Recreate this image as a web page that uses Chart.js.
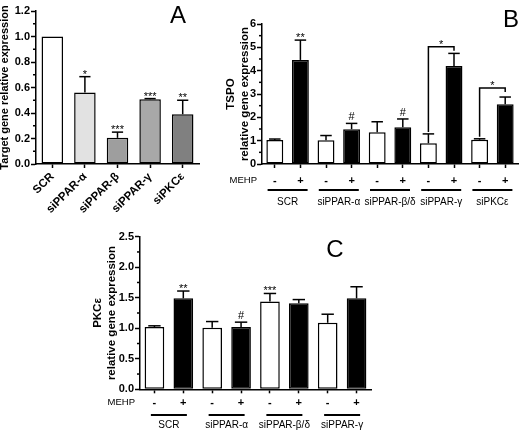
<!DOCTYPE html>
<html>
<head>
<meta charset="utf-8">
<script src="https://cdn.jsdelivr.net/npm/chart.js@4.4.1/dist/chart.umd.min.js"></script>
<style>
body { margin: 0; background: #fff; width: 521px; height: 434px; position: relative; overflow: hidden; }
canvas { position: absolute; }
</style>
</head>
<body>
<canvas id="chartB" width="297" height="215" style="left:224px;top:0px"></canvas>
<canvas id="chartC" width="290" height="214" style="left:91px;top:220px"></canvas>
<canvas id="chartA" width="215" height="220" style="left:-2px;top:0px"></canvas>
<script>
// panel A
const labelsA = ['SCR', 'siPPAR-α', 'siPPAR-β', 'siPPAR-γ', 'siPKCε']
const valuesA = [1.0, 0.56, 0.205, 0.507, 0.39]
const errorsA = [0, 0.125, 0.045, 0.006, 0.11]
const starsA = ['', '*', '***', '***', '**']

// panel B
const mehpB = ['-', '+', '-', '+', '-', '+', '-', '+', '-', '+']
const groupsB = ['SCR', 'siPPAR-α', 'siPPAR-β/δ', 'siPPAR-γ', 'siPKCε']
const valuesB = [1.03, 4.46, 1.02, 1.49, 1.36, 1.57, 0.89, 4.2, 1.04, 2.56]
const errorsB = [0.04, 0.85, 0.2, 0.25, 0.45, 0.36, 0.4, 0.54, 0.04, 0.31]
const starsB = ['', '**', '', '#', '', '#', '', '', '', '']
const bracketPairsB = [[6, 7], [8, 9]]
const bracketLevelsB = [5.03, 3.26]
const bracketMarksB = ['*', '*']

// panel C
const mehpC = ['-', '+', '-', '+', '-', '+', '-', '+']
const groupsC = ['SCR', 'siPPAR-α', 'siPPAR-β/δ', 'siPPAR-γ']
const valuesC = [1.02, 1.49, 1.01, 1.02, 1.44, 1.41, 1.09, 1.49]
const errorsC = [0.02, 0.12, 0.1, 0.08, 0.13, 0.06, 0.14, 0.19]
const starsC = ['', '**', '', '#', '***', '', '', '']

const FONT = 'Arial, "Liberation Sans", sans-serif'
Chart.defaults.font.family = FONT
Chart.defaults.color = '#000'

const onStep = (v, step) => Math.abs(v / step - Math.round(v / step)) < 1e-6

// extra drawing: minor ticks, error bars, stars, brackets, MEHP row, panel letter
const makeAnnot = (p) => ({
    id: 'annot_' + p.letter,
    afterDatasetsDraw(chart) {
        const ctx = chart.ctx
        const xs = chart.scales.x, ys = chart.scales.y
        const bars = chart.getDatasetMeta(0).data
        const errTop = (i) => ys.getPixelForValue(p.values[i] + p.errors[i])
        const line = (x1, y1, x2, y2) => { ctx.beginPath(); ctx.moveTo(x1, y1); ctx.lineTo(x2, y2); ctx.stroke() }
        ctx.save()
        ctx.strokeStyle = '#000'
        ctx.fillStyle = '#000'
        ctx.lineWidth = 1.5

        ys.ticks.forEach(t => {
            if (!onStep(t.value, p.major)) {
                const py = ys.getPixelForValue(t.value)
                line(ys.right - 3, py, ys.right, py)
            }
        })

        ctx.font = '11px ' + FONT
        ctx.textAlign = 'center'
        ctx.textBaseline = 'alphabetic'
        bars.forEach((bar, i) => {
            const top = errTop(i)
            if (p.errors[i] > 0) {
                line(bar.x, bar.y, bar.x, top)
                const c = bar.width * p.cap / 2
                line(bar.x - c, top, bar.x + c, top)
            }
            const s = p.stars[i]
            if (s) ctx.fillText(s, bar.x, s === '#' ? top - 3 : top + 1)
        })

        if (p.brackets) {
            p.brackets.pairs.forEach((pr, k) => {
                const ly = ys.getPixelForValue(p.brackets.levels[k])
                const a = bars[pr[0]].x, b = bars[pr[1]].x
                ctx.beginPath()
                ctx.moveTo(a, errTop(pr[0]) - 2)
                ctx.lineTo(a, ly)
                ctx.lineTo(b, ly)
                ctx.lineTo(b, ly + 4)
                ctx.stroke()
                ctx.fillText(p.brackets.marks[k], (a + b) / 2, ly + 1)
            })
        }

        if (p.groups) {
            ctx.font = '9.5px ' + FONT
            ctx.textAlign = 'right'
            ctx.textBaseline = 'middle'
            ctx.fillText('MEHP', xs.left - 5, p.mehpY)
            ctx.textAlign = 'center'
            ctx.font = '10px ' + FONT
            ctx.lineWidth = 2
            p.groups.forEach((g, k) => {
                const mid = (bars[2 * k].x + bars[2 * k + 1].x) / 2
                line(mid - p.half, p.lineY, mid + p.half, p.lineY)
                ctx.fillText(g, mid, p.groupY)
            })
        }

        ctx.font = '24px ' + FONT
        ctx.textAlign = 'center'
        ctx.textBaseline = 'alphabetic'
        ctx.fillText(p.letter, p.letterX, p.letterY)
        ctx.restore()
    }
})

const makeChart = (id, p) => {
    const ctx = document.getElementById(id).getContext('2d')
    const config = {
        type: 'bar',
        data: {
            labels: p.labels,
            datasets: [{
                data: p.values,
                backgroundColor: p.colors,
                borderColor: '#000',
                borderWidth: 1.5,
                borderSkipped: false,
                barPercentage: p.barPct,
                categoryPercentage: 1
            }]
        },
        options: {
            responsive: false,
            animation: false,
            layout: { padding: { top: p.padTop, right: p.padRight, left: 0, bottom: 0 } },
            plugins: { legend: { display: false }, tooltip: { enabled: false } },
            scales: {
                x: {
                    afterFit: (s) => { s.height = p.xHeight },
                    border: { color: '#000', width: 1.5 },
                    grid: { drawOnChartArea: false, offset: false, tickLength: 4, tickColor: '#000', tickWidth: 1.5 },
                    ticks: { font: p.xFont, padding: p.xPad, maxRotation: p.rot, minRotation: p.rot, autoSkip: false }
                },
                y: {
                    min: 0, max: p.max,
                    afterFit: (s) => { s.width = p.yWidth },
                    border: { color: '#000', width: 1.5 },
                    grid: {
                        drawOnChartArea: false, tickLength: 5, tickWidth: 1.5,
                        tickColor: (c) => onStep(c.tick.value, p.major) ? '#000' : 'rgba(0,0,0,0)'
                    },
                    ticks: {
                        stepSize: p.step, padding: 1, autoSkip: false,
                        font: { size: 11, weight: 'bold' },
                        callback: (v) => onStep(v, p.major) ? v.toFixed(p.dec) : ''
                    },
                    title: { display: true, text: p.title, font: { size: p.titleSize, weight: 'bold' }, padding: { top: 0, bottom: 0 } }
                }
            }
        },
        plugins: [makeAnnot(p)]
    }
    return new Chart(ctx, config)
}

const bw = (labels) => labels.map((m) => m === '+' ? '#000000' : '#ffffff')

makeChart('chartB', {
    labels: mehpB, values: valuesB, errors: errorsB, stars: starsB, colors: bw(mehpB),
    barPct: 0.66, padTop: 24, padRight: 3, xHeight: 51, yWidth: 38,
    xFont: { size: 11, weight: 'bold' }, xPad: 6, rot: 0,
    max: 6, step: 0.5, major: 1, dec: 0,
    title: ['TSPO', 'relative gene expression'], titleSize: 11.5,
    cap: 0.68, letter: 'B', letterX: 287, letterY: 27,
    brackets: { pairs: bracketPairsB, levels: bracketLevelsB, marks: bracketMarksB },
    groups: groupsB, mehpY: 180.5, lineY: 190, groupY: 202, half: 20
})

makeChart('chartC', {
    labels: mehpC, values: valuesC, errors: errorsC, stars: starsC, colors: bw(mehpC),
    barPct: 0.68, padTop: 16.7, padRight: 10, xHeight: 44.7, yWidth: 49,
    xFont: { size: 11, weight: 'bold' }, xPad: 3, rot: 0,
    max: 2.5, step: 0.25, major: 0.5, dec: 1,
    title: ['PKCε', 'relative gene expression'], titleSize: 11.5,
    cap: 0.63, letter: 'C', letterX: 244, letterY: 37,
    groups: groupsC, mehpY: 182.7, lineY: 195, groupY: 205.7, half: 18
})

makeChart('chartA', {
    labels: labelsA, values: valuesA, errors: errorsA, stars: starsA,
    colors: ['#ffffff', '#e2e2e2', '#9e9e9e', '#a8a8a8', '#808080'],
    barPct: 0.66, padTop: 11, padRight: 14, xHeight: 56, yWidth: 38,
    xFont: { size: 11.5, weight: 'bold' }, xPad: 2, rot: 45,
    max: 1.2, step: 0.1, major: 0.2, dec: 1,
    title: 'Target gene relative expression', titleSize: 11,
    cap: 0.52, letter: 'A', letterX: 180, letterY: 23
})
</script>
</body>
</html>
